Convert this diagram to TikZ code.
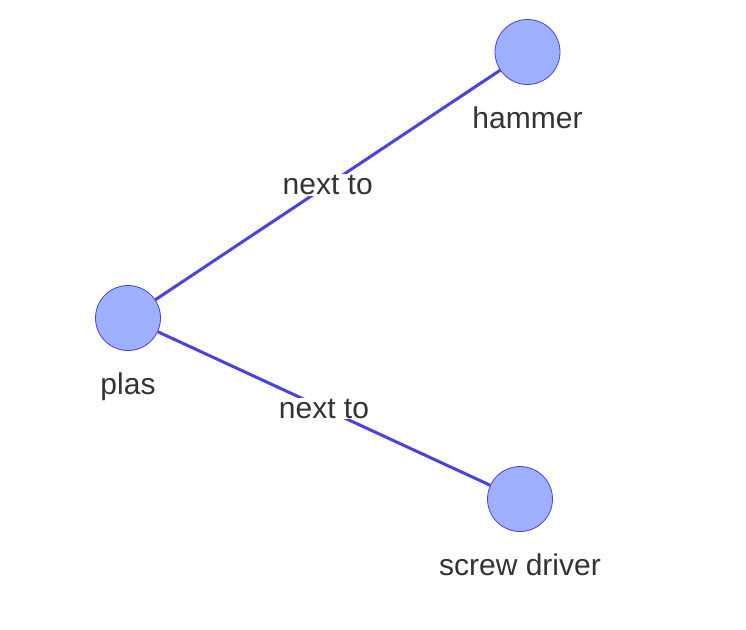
\documentclass[tikz,border=0pt]{standalone}
\usepackage{fontspec}
\setmainfont{Liberation Sans}
\usetikzlibrary{calc}

\definecolor{nodefill}{HTML}{9EB0FF}
\definecolor{edgeblue}{HTML}{4B3FE6}
\definecolor{txtgray}{HTML}{333333}

\tikzset{
  item/.style={circle,draw=edgeblue,line width=0.8pt,fill=nodefill,minimum size=65pt,inner sep=0pt},
  lbl/.style={text=txtgray,font=\fontsize{30}{36}\selectfont,anchor=base},
  link/.style={draw=edgeblue,line width=3pt},
  linklbl/.style={text=txtgray,font=\fontsize{30}{36}\selectfont,fill=white,inner sep=1pt}
}

\begin{document}
\begin{tikzpicture}[x=1pt,y=-1pt]
        \useasboundingbox (0,0) rectangle (746,629);

        % the three items
        \node[item] (plas)   at (128,318) {};
        \node[item] (hammer) at (527.5,52) {};
        \node[item] (screw)  at (520,499) {};

        % names under the items
        \node[lbl] (plaslbl)   at ($(plas)+(0,76)$)   {plas};
        \node[lbl] (hammerlbl) at ($(hammer)+(0,76)$) {hammer};
        \node[lbl] (screwlbl)  at ($(screw)+(0,76)$)  {screw driver};

        % the relations
        \draw[link] (plas) -- node[linklbl] {next to} (hammer);
        \draw[link] (plas) -- node[linklbl] {next to} (screw);
\end{tikzpicture}
\end{document}
